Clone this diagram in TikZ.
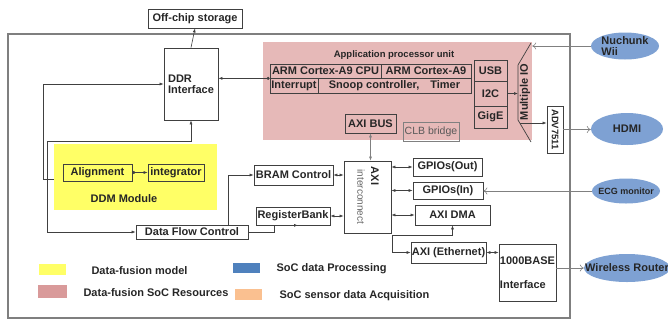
\documentclass[tikz,border=0pt]{standalone}
\usepackage{fontspec}
\setmainfont{Liberation Sans}
\usepackage{tikz}
\usetikzlibrary{arrows.meta,shapes.geometric,calc}
\definecolor{ddmyellow}{HTML}{FFFF66}
\definecolor{apupink}{HTML}{E6B9B8}
\definecolor{keypink}{HTML}{D99A9A}
\definecolor{socblue}{HTML}{4F81BD}
\definecolor{extblue}{HTML}{7EA1D3}
\definecolor{sensorange}{HTML}{FAC090}
\definecolor{linegray}{HTML}{404040}
\definecolor{framegray}{HTML}{7F7F7F}
\def\bfs#1{\fontsize{#1}{#1}\selectfont\bfseries}

\begin{document}
\begin{tikzpicture}[x=1pt,y=-1pt,
   every node/.style={font=\bfs{11},text=black!85},
   blk/.style={draw=linegray,line width=0.7pt,inner sep=0pt},
   ext/.style={ellipse,fill=extblue,inner sep=0pt},
   link/.style={draw=linegray,line width=0.6pt,-{Latex[length=4pt,width=3pt]}},
   bilink/.style={link,{Latex[length=4pt,width=3pt]}-{Latex[length=4pt,width=3pt]}},
   dotlink/.style={link,{Circle[length=3pt]}-{Latex[length=4pt,width=3pt]}},
   inlink/.style={draw=gray,line width=0.6pt,-{To[length=4pt,width=7pt]}}]
   \useasboundingbox (0,0) rectangle (668,322);

   % board frame and shaded regions
   \draw[framegray,line width=1.1pt] (8,34) rectangle (570,318);
   \node[fill=apupink,inner sep=0pt,minimum width=269pt,minimum height=98pt] (apu) at (397.5,91) {};
   \node[fill=ddmyellow,inner sep=0pt,minimum width=163pt,minimum height=66pt] (ddm) at (135.5,177) {};

   \node[blk,minimum width=94pt,minimum height=19pt] (off) at (195,18.5) {Off-chip storage};
   \node[blk,minimum width=54pt,minimum height=72pt,align=left] (ddr) at (191,84) {DDR\\Interface};

   % DDM module
   \node[blk,minimum width=69pt,minimum height=17pt] (aln) at (97.5,172.5) {Alignment};
   \node[blk,minimum width=56pt,minimum height=17pt] (intg) at (176,172.5) {integrator};
   \node (ddmlbl) at (124,199) {DDM Module};
   \coordinate (aln-out) at (ddm.west |- 0,179);

   \node[blk,minimum width=112pt,minimum height=14pt] (dfc) at (192,232) {Data Flow Control};
   \node[blk,minimum width=79pt,minimum height=20pt] (bram) at (293.5,175) {BRAM Control};
   \node[blk,minimum width=74pt,minimum height=18pt] (regb) at (293,216) {RegisterBank};

   % AXI interconnect
   \node[blk,minimum width=47pt,minimum height=72pt] (axi) at (367.5,197) {};
   \node[rotate=-90] (axilbl) at (375,176) {AXI};
   \node[rotate=-90,font=\fontsize{10}{10}\selectfont,text=black!60] (axisub) at (361,197) {interconnect};

   \node[blk,minimum width=69pt,minimum height=18pt] (gpo) at (447.5,167) {GPIOs(Out)};
   \node[blk,minimum width=70pt,minimum height=17pt] (gpi) at (448,190.5) {GPIOs(In)};
   \node[blk,minimum width=75pt,minimum height=20pt] (dma) at (452.5,215) {AXI DMA};
   \node[blk,minimum width=75pt,minimum height=21pt] (eth) at (448.5,252.5) {AXI (Ethernet)};
   \node[blk,minimum width=57pt,minimum height=57pt,align=left] (base) at (527.5,272.5) {1000BASE\\[13pt]Interface};

   % application processor unit
   \node[font=\bfs{9.5}] (apulbl) at (394,55) {Application processor unit};
   \node[blk,minimum width=111pt,minimum height=14pt] (cpu) at (325.5,71) {ARM Cortex-A9 CPU};
   \node[blk,minimum width=90pt,minimum height=14pt] (a9) at (426,71) {ARM Cortex-A9};
   \node[blk,minimum width=48pt,minimum height=15pt] (irq) at (294,85.5) {Interrupt};
   \node[blk,minimum width=153pt,minimum height=15pt] (scu) at (394.5,85.5) {Snoop controller,\quad Timer};
   \node[blk,minimum width=33pt,minimum height=21pt] (usb) at (490.5,70.5) {USB};
   \node[blk,minimum width=33pt,minimum height=25pt] (i2c) at (490.5,93.5) {I2C};
   \node[blk,minimum width=33pt,minimum height=22pt] (gige) at (490.5,117) {GigE};
   \node[blk,minimum width=51pt,minimum height=19pt] (axibus) at (370.5,123.5) {AXI BUS};
   \node[draw=gray,inner sep=0pt,minimum width=56pt,minimum height=19pt,font=\fontsize{10.5}{10.5}\selectfont,text=black!65] (clb) at (431,131.5) {CLB bridge};

   % multiple IO
   \coordinate (mio-a) at (531,43);
   \coordinate (mio-b) at (518,65);
   \coordinate (mio-c) at (518,120);
   \coordinate (mio-d) at (531,142);
   \coordinate (mio-out) at (520,123);
   \draw[linegray,line width=0.7pt] (mio-a) -- (mio-b) -- (mio-c) -- (mio-d);
   \node[rotate=90] (mio) at (525,92) {Multiple IO};
   \node[blk,minimum width=16pt,minimum height=47pt] (adv) at (555,129.5) {};
   \node[rotate=-90,font=\bfs{9.5}] (advlbl) at (adv) {ADV7511};

   % outside world
   \node[ext,minimum width=68pt,minimum height=27pt,label={[align=left]center:Nuchunk\\Wii}] (wii) at (625,46) {};
   \node[ext,minimum width=72pt,minimum height=32pt,label={center:HDMI}] (hdmi) at (627,129) {};
   \node[ext,minimum width=68pt,minimum height=25pt,label={[font=\bfs{9}]center:ECG monitor}] (ecg) at (626,191) {};
   \node[ext,minimum width=86pt,minimum height=28pt,label={center:Wireless Router}] (router) at (627,268) {};

   % connections
   \draw[link] (ddr.north) -- (off.south);
   \draw[dotlink] (cpu.south west) -- (cpu.south west -| ddr.east);
   \draw[link] (aln-out) -- ++(-11,0) |- (ddr.west);
   \draw[bilink] (ddr.south) |- (47,141) |- (dfc.west);
   \draw[dotlink] (aln.east) -- (intg.west);
   \draw[link] ($(dfc.north east)+(-20,0)$) |- (bram.west);
   \draw[link] (dfc.east) -| ($(regb.south west)+(19,0)$) -- ($(regb.south)+(5,0)$);
   \draw[bilink] (bram.east) -- (bram.east -| axi.west);
   \draw[bilink] (regb.east) -- (regb.east -| axi.west);
   \draw[bilink,draw=gray] (axibus.south) -- (axibus.south |- axi.north);
   \draw[bilink] (axi.east |- gpo.west) -- (gpo.west);
   \draw[bilink] (axi.east |- gpi.west) -- (gpi.west);
   \draw[bilink] (axi.east |- dma.west) -- (dma.west);
   \draw[bilink] (dma.south) |- (392,235) |- (eth.west);
   \draw[bilink] (eth.east) -- (eth.east -| base.west);
   \draw[link] (i2c.east) -- (i2c.east -| mio-b);
   \draw[link] (mio-out) -- (mio-out -| adv.west);
   \draw[inlink] (wii.west) -- (wii.west -| apu.east);
   \draw[inlink] (adv.east) -- (adv.east -| hdmi.west);
   \draw[inlink] (ecg.west) -- (ecg.west -| gpi.east);
   \draw[inlink] (base.east |- router.west) -- (router.west);

   % legend
   \fill[ddmyellow] (39,264) rectangle (66,275);
   \fill[keypink] (38,285) rectangle (67,298);
   \fill[socblue] (233,263) rectangle (260,273);
   \fill[sensorange] (235,289) rectangle (262,300);
   \node[anchor=west] (key1) at (88,271) {Data-fusion model};
   \node[anchor=west] (key2) at (80,293) {Data-fusion SoC Resources};
   \node[anchor=west] (key3) at (273,269) {SoC data Processing};
   \node[anchor=west] (key4) at (276,296) {SoC sensor data Acquisition};
\end{tikzpicture}
\end{document}
